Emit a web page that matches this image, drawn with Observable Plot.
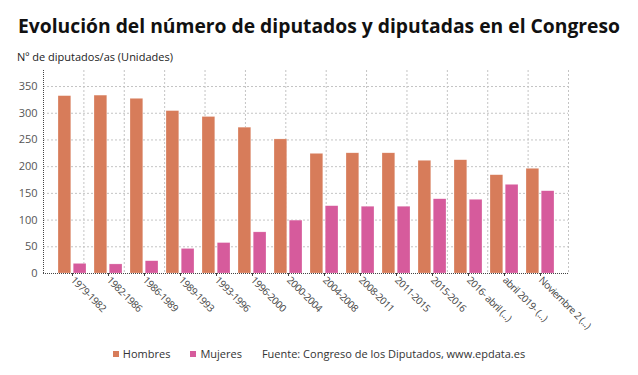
<!DOCTYPE html>
<html><head><meta charset="utf-8">
<script src="https://cdn.jsdelivr.net/npm/d3@7"></script>
<script src="https://cdn.jsdelivr.net/npm/@observablehq/plot@0.6"></script>
<style>
body{margin:0;background:#fff;font-family:"Open Sans",sans-serif;}
#wrap{position:relative;width:638px;height:375px;overflow:hidden;background:#fff}
#title{position:absolute;left:0;width:638px;top:12px;text-align:center;font-weight:700;font-size:19.3px;color:#111;white-space:nowrap}
#sub{position:absolute;left:17px;top:49px;font-size:11px;color:#222}
.layer{position:absolute;left:0;top:0}
#legend{position:absolute;top:346px;left:0;width:638px;font-size:11px;color:#333;display:flex;justify-content:center;align-items:center;white-space:nowrap}
#legend .sw{display:inline-block;width:6px;height:6px;margin-right:4px}
#legend .it{margin-right:20px;display:flex;align-items:center}
#chart g[aria-label="x-axis tick label"] text{letter-spacing:-0.45px}
</style>
</head><body>
<div id="wrap">
  <div id="title">Evolución del número de diputados y diputadas en el Congreso</div>
  <div id="sub">Nº de diputados/as (Unidades)</div>
  <div id="grid" class="layer"></div>
  <div id="chart" class="layer"></div>
  <div id="legend"></div>
</div>
<script>
const categories = ["1979-1982","1982-1986","1986-1989","1989-1993","1993-1996","1996-2000","2000-2004","2004-2008","2008-2011","2011-2015","2015-2016","2016- abril (...)","abril 2019- (...)","Noviembre 2 (...)"];
const hombres = [332,333,327,304,293,273,251,224,225,225,211,212,184,196];
const mujeres = [18,17,23,46,57,77,99,126,125,125,139,138,166,154];
const yTicks = [0,50,100,150,200,250,300,350];
const gridCols = [1,2,3,4,5,6,7,8,9,10,11,12,13];
const seriesNames = ["Hombres","Mujeres"];
const colors = ["#d77c5a","#d65b9c"];
const source = "Fuente: Congreso de los Diputados, www.epdata.es";

const rows = categories.map((c,i)=>({cat:c, h:hombres[i], m:mujeres[i]}));

const W=638, H=345;
const common = {width:W, height:H, marginTop:70, marginBottom:72, marginLeft:43, marginRight:70,
  style:{fontFamily:"Open Sans, sans-serif", background:"transparent", overflow:"visible"}};

const grid = Plot.plot({...common,
  x:{domain:[0,13], axis:null},
  y:{domain:[0,380], axis:null},
  marks:[
    Plot.ruleY(yTicks.filter(d=>d>0), {stroke:"#c4c4c4", strokeDasharray:"2,2"}),
    Plot.ruleX(gridCols, {stroke:"#c4c4c4", strokeDasharray:"2,2"}),
    Plot.ruleX([0], {stroke:"#444", strokeDasharray:"1,1"})
  ]});
document.getElementById("grid").appendChild(grid);

const chart = Plot.plot({...common,
  x:{domain:categories, padding:0, insetLeft:8, insetRight:8},
  y:{domain:[0,380]},
  marks:[
    Plot.barY(rows, {x:"cat", y:"h", fill:colors[0], insetLeft:4, insetRight:19.2, stroke:"#fff", strokeOpacity:0.5, strokeWidth:0.5}),
    Plot.barY(rows, {x:"cat", y:"m", fill:colors[1], insetLeft:19.2, insetRight:4, stroke:"#fff", strokeOpacity:0.5, strokeWidth:0.5}),
    Plot.ruleY([0], {stroke:"#444", strokeDasharray:"1,1"}),
    Plot.axisY({ticks:yTicks, tickSize:0, tickPadding:6, fontSize:11, fill:"#555", label:null}),
    Plot.axisX({tickRotate:45, tickSize:3, tickPadding:2, fontSize:10, fill:"#444", stroke:"#444", label:null})
  ]});
document.getElementById("chart").appendChild(chart);

const leg = document.getElementById("legend");
seriesNames.forEach((n,i)=>{
  const it=document.createElement("span"); it.className="it";
  const sw=document.createElement("span"); sw.className="sw"; sw.style.background=colors[i];
  it.appendChild(sw); it.appendChild(document.createTextNode(n)); leg.appendChild(it);
});
const src=document.createElement("span"); src.textContent=source; leg.appendChild(src);
</script>
</body></html>
